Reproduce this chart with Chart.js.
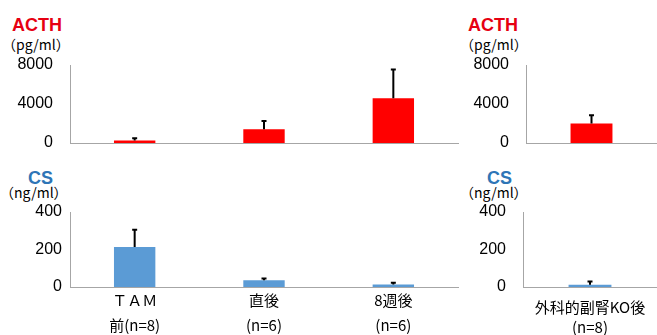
<!DOCTYPE html>
<html>
<head>
<meta charset="utf-8">
<script src="https://cdn.jsdelivr.net/npm/chart.js@4"></script>
<style>
  body { margin: 0; background: #fff; width: 657px; height: 335px; overflow: hidden; position: relative; }
  canvas { position: absolute; }
  .t { position: absolute; font: bold 18px "Liberation Sans", Arial, sans-serif; line-height: 1; }
  .u { position: absolute; font: 14px "Noto Sans CJK JP", sans-serif; line-height: 1; color: #000; }
</style>
</head>
<body>
<div class="t" style="left:12px;top:16px;color:#e60012">ACTH</div>
<div class="u" style="left:2px;top:37px">（pg/ml）</div>
<div class="t" style="left:28px;top:169px;color:#2e75b6">CS</div>
<div class="u" style="left:0px;top:185px">（ng/ml）</div>
<div class="t" style="left:468px;top:16px;color:#e60012">ACTH</div>
<div class="u" style="left:460px;top:37px">（pg/ml）</div>
<div class="t" style="left:487px;top:169px;color:#2e75b6">CS</div>
<div class="u" style="left:460px;top:185px">（ng/ml）</div>

<canvas id="acth" width="460" height="110" style="left:0;top:50px"></canvas>
<canvas id="cs" width="460" height="140" style="left:0;top:195px"></canvas>
<canvas id="acthKo" width="197" height="110" style="left:460px;top:50px"></canvas>
<canvas id="csKo" width="197" height="140" style="left:460px;top:195px"></canvas>

<script>
const groups = [['ＴＡＭ', '前(n=8)'], ['直後', '(n=6)'], ['8週後', '(n=6)']];
const koGroup = [['外科的副腎KO後', '(n=8)']];

const acthMean = [250, 1400, 4600];
const acthSd = [250, 850, 2950];
const csMean = [213, 36, 13];
const csSd = [93, 9, 10];

const acthKoMean = [2000];
const acthKoSd = [850];
const csKoMean = [12];
const csKoSd = [18];

const acthTicks = [0, 4000, 8000];
const csTicks = [0, 200, 400];

const red = '#ff0000';
const blue = '#5b9bd5';
const axisGray = '#a6a6a6';

// upper error bars only, drawn from the y scale
const errorBars = {
  id: 'errorBars',
  afterDatasetsDraw(chart) {
    const ds = chart.data.datasets[0];
    const meta = chart.getDatasetMeta(0);
    const y = chart.scales.y;
    const ctx = chart.ctx;
    ctx.save();
    ctx.strokeStyle = '#000';
    ctx.lineWidth = 2;
    meta.data.forEach((bar, i) => {
      const top = y.getPixelForValue(ds.data[i] + ds.sd[i]);
      ctx.beginPath();
      ctx.moveTo(bar.x, bar.y);
      ctx.lineTo(bar.x, top);
      ctx.moveTo(bar.x - 2.5, top);
      ctx.lineTo(bar.x + 2.5, top);
      ctx.stroke();
    });
    ctx.restore();
  }
};

function panel(id, labels, means, sds, color, ticks, cfg) {
  new Chart(document.getElementById(id), {
    type: 'bar',
    data: {
      labels: labels,
      datasets: [{
        data: means,
        sd: sds,
        backgroundColor: color,
        categoryPercentage: 1,
        barPercentage: 0.32
      }]
    },
    options: {
      responsive: false,
      animation: false,
      devicePixelRatio: 1,
      layout: { padding: cfg.padding },
      plugins: { legend: { display: false }, tooltip: { enabled: false } },
      scales: {
        x: {
          grid: { display: false, drawTicks: false },
          border: { display: true, color: axisGray, width: 1 },
          ticks: {
            display: cfg.showLabels,
            color: '#000',
            padding: cfg.labelPad,
            maxRotation: 0,
            autoSkip: false,
            font: { family: '"Noto Sans CJK JP", sans-serif', size: 15, lineHeight: cfg.lineHeight }
          },
          afterFit: s => { s.height = cfg.xHeight; }
        },
        y: {
          min: ticks[0],
          max: ticks[ticks.length - 1],
          // tick marks are hidden with the grid, their length only spaces the labels
          grid: { display: false, drawTicks: true, tickLength: cfg.tickGap },
          border: { display: true, color: axisGray, width: 1 },
          ticks: {
            color: '#000',
            padding: 2,
            font: { family: '"Liberation Sans", Arial, sans-serif', size: 16 },
            callback: v => String(v)
          },
          afterBuildTicks: s => { s.ticks = ticks.map(v => ({ value: v })); },
          afterFit: s => { s.width = cfg.yWidth; }
        }
      }
    },
    plugins: [errorBars]
  });
}

panel('acth', groups, acthMean, acthSd, red, acthTicks, {
  padding: { top: 15, bottom: 17, right: 2, left: 0 }, showLabels: false, xHeight: 0,
  yWidth: 70, tickGap: 15, labelPad: 0, lineHeight: 1.2
});
panel('cs', groups, csMean, csSd, blue, csTicks, {
  padding: { top: 17, bottom: 0, right: 2, left: 0 }, showLabels: true, xHeight: 48,
  yWidth: 70, tickGap: 6, labelPad: 1, lineHeight: 1.65
});
panel('acthKo', koGroup, acthKoMean, acthKoSd, red, acthTicks, {
  padding: { top: 15, bottom: 17, right: 0, left: 0 }, showLabels: false, xHeight: 0,
  yWidth: 66, tickGap: 15, labelPad: 0, lineHeight: 1.2
});
panel('csKo', koGroup, csKoMean, csKoSd, blue, csTicks, {
  padding: { top: 17, bottom: 0, right: 0, left: 0 }, showLabels: true, xHeight: 48,
  yWidth: 63, tickGap: 15, labelPad: 10, lineHeight: 1.33
});
</script>
</body>
</html>
